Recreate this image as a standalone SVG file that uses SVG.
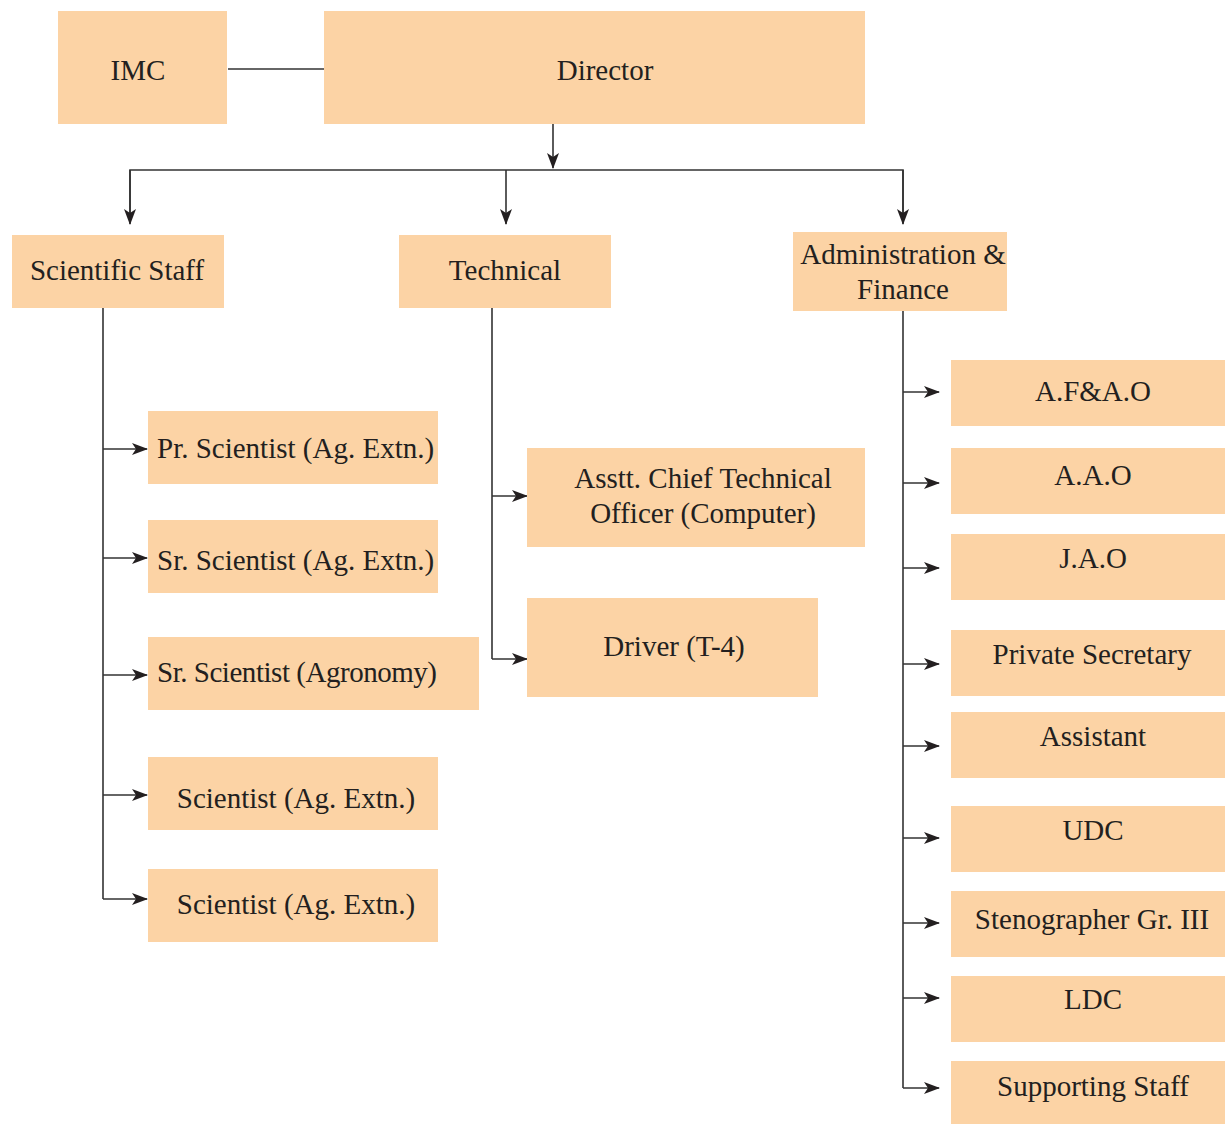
<svg xmlns="http://www.w3.org/2000/svg" width="1225" height="1124" viewBox="0 0 1225 1124">
<style>
.box{fill:#FCD3A5}
.t{font-family:'Liberation Serif','Times New Roman','DejaVu Serif',serif;font-size:29px;fill:#231f20;text-anchor:middle;dominant-baseline:central}
.tl{font-family:'Liberation Serif','Times New Roman','DejaVu Serif',serif;font-size:29px;fill:#231f20;dominant-baseline:central}
.ln{stroke:#333;stroke-width:1.6;fill:none}
.la{stroke:#333;stroke-width:1.6;fill:none;marker-end:url(#ah)}
</style>
<defs>
<marker id="ah" viewBox="0 0 16 12" refX="15" refY="6" markerWidth="16" markerHeight="12" markerUnits="userSpaceOnUse" orient="auto">
<path d="M0,0 L16,6 L0,12 L4,6 Z" fill="#231f20"/>
</marker>
</defs>
<rect width="1225" height="1124" fill="#fff"/>
<g id="connectors">
<line class="ln" x1="228" y1="69" x2="324" y2="69"/>
<line class="la" x1="553" y1="124" x2="553" y2="168"/>
<polyline class="ln" points="130,215 130,170 903,170 903,215"/>
<line class="la" x1="130" y1="170" x2="130" y2="224"/>
<line class="la" x1="506" y1="170" x2="506" y2="224"/>
<line class="la" x1="903" y1="170" x2="903" y2="224"/>
<line class="ln" x1="103" y1="308" x2="103" y2="899"/>
<line class="la" x1="103" y1="449" x2="147" y2="449"/>
<line class="la" x1="103" y1="558" x2="147" y2="558"/>
<line class="la" x1="103" y1="675" x2="147" y2="675"/>
<line class="la" x1="103" y1="795" x2="147" y2="795"/>
<line class="la" x1="103" y1="899" x2="147" y2="899"/>
<line class="ln" x1="492" y1="308" x2="492" y2="659"/>
<line class="la" x1="492" y1="496" x2="527" y2="496"/>
<line class="la" x1="492" y1="659" x2="527" y2="659"/>
<line class="ln" x1="903" y1="311" x2="903" y2="1088"/>
<line class="la" x1="903" y1="392" x2="939" y2="392"/>
<line class="la" x1="903" y1="483" x2="939" y2="483"/>
<line class="la" x1="903" y1="568" x2="939" y2="568"/>
<line class="la" x1="903" y1="664" x2="939" y2="664"/>
<line class="la" x1="903" y1="746" x2="939" y2="746"/>
<line class="la" x1="903" y1="838" x2="939" y2="838"/>
<line class="la" x1="903" y1="923" x2="939" y2="923"/>
<line class="la" x1="903" y1="998" x2="939" y2="998"/>
<line class="la" x1="903" y1="1088" x2="939" y2="1088"/>
</g>
<g id="imc"><rect class="box" x="58" y="11" width="169" height="113"/><text class="t" x="138" y="70">IMC</text></g>
<g id="director"><rect class="box" x="324" y="11" width="541" height="113"/><text class="t" x="605" y="70">Director</text></g>
<g id="scientific"><rect class="box" x="12" y="235" width="212" height="73"/><text class="t" x="117" y="270">Scientific Staff</text></g>
<g id="technical"><rect class="box" x="399" y="235" width="212" height="73"/><text class="t" x="505" y="270">Technical</text></g>
<g id="admin"><rect class="box" x="793" y="232" width="214" height="79"/><text class="t" x="903" y="254">Administration &amp;</text><text class="t" x="903" y="289">Finance</text></g>
<g id="pr-sci"><rect class="box" x="148" y="411" width="290" height="73"/><text class="tl" x="157" y="448">Pr. Scientist (Ag. Extn.)</text></g>
<g id="sr-sci1"><rect class="box" x="148" y="520" width="290" height="73"/><text class="tl" x="157" y="560">Sr. Scientist (Ag. Extn.)</text></g>
<g id="sr-sci2"><rect class="box" x="148" y="637" width="331" height="73"/><text class="tl" x="157" y="672" textLength="280" lengthAdjust="spacing">Sr. Scientist (Agronomy)</text></g>
<g id="sci1"><rect class="box" x="148" y="757" width="290" height="73"/><text class="t" x="296" y="798">Scientist (Ag. Extn.)</text></g>
<g id="sci2"><rect class="box" x="148" y="869" width="290" height="73"/><text class="t" x="296" y="904">Scientist (Ag. Extn.)</text></g>
<g id="actg"><rect class="box" x="527" y="448" width="338" height="99"/><text class="t" x="703" y="478">Asstt. Chief Technical</text><text class="t" x="703" y="513">Officer (Computer)</text></g>
<g id="driver"><rect class="box" x="527" y="598" width="291" height="99"/><text class="t" x="674" y="646">Driver (T-4)</text></g>
<g id="afao"><rect class="box" x="951" y="360" width="274" height="66"/><text class="t" x="1093" y="391">A.F&amp;A.O</text></g>
<g id="aao"><rect class="box" x="951" y="448" width="274" height="66"/><text class="t" x="1093" y="475">A.A.O</text></g>
<g id="jao"><rect class="box" x="951" y="534" width="274" height="66"/><text class="t" x="1093" y="558">J.A.O</text></g>
<g id="ps"><rect class="box" x="951" y="630" width="274" height="66"/><text class="t" x="1092" y="654">Private Secretary</text></g>
<g id="assistant"><rect class="box" x="951" y="712" width="274" height="66"/><text class="t" x="1093" y="736">Assistant</text></g>
<g id="udc"><rect class="box" x="951" y="806" width="274" height="66"/><text class="t" x="1093" y="830">UDC</text></g>
<g id="steno"><rect class="box" x="951" y="891" width="274" height="66"/><text class="t" x="1092" y="919">Stenographer Gr. III</text></g>
<g id="ldc"><rect class="box" x="951" y="976" width="274" height="66"/><text class="t" x="1093" y="999">LDC</text></g>
<g id="support"><rect class="box" x="951" y="1061" width="274" height="63"/><text class="t" x="1093" y="1086">Supporting Staff</text></g>
</svg>
